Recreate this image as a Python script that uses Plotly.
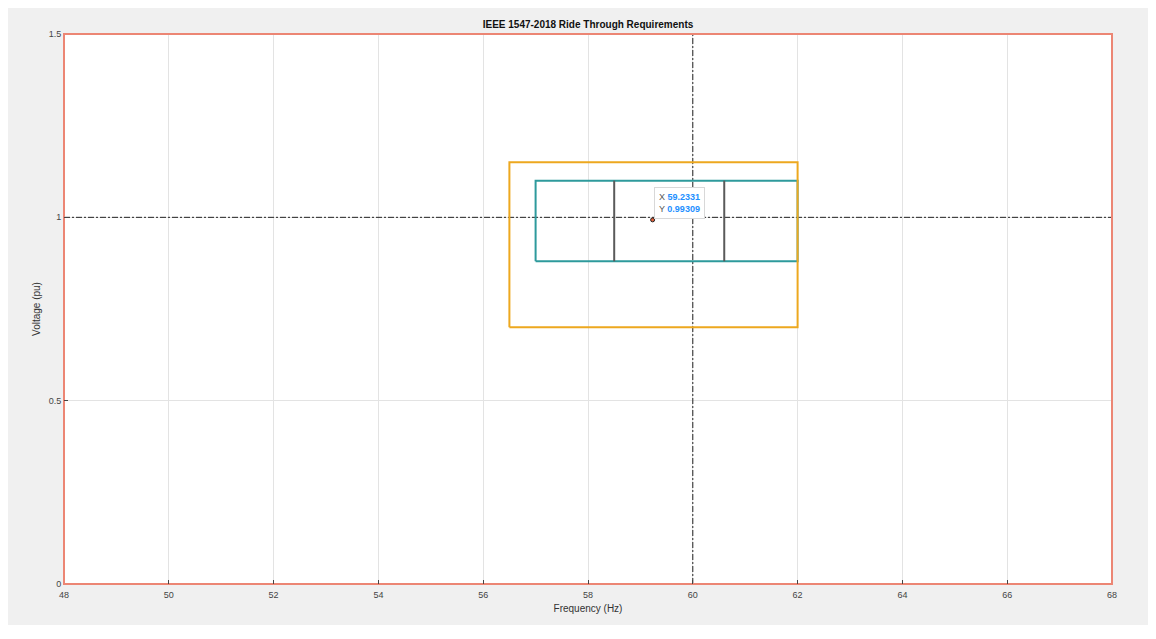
import plotly.graph_objects as go

# Data
boundary_x = [48, 68, 68, 48, 48]
boundary_y = [0, 0, 1.5, 1.5, 0]
outer_x = [56.5, 62, 62, 56.5, 56.5]
outer_y = [0.7, 0.7, 1.15, 1.15, 0.7]
inner_x = [57, 62, 62, 57, 57]
inner_y = [0.88, 0.88, 1.1, 1.1, 0.88]
div1_x = [58.5, 58.5]
div2_x = [60.6, 60.6]
div_y = [0.88, 1.1]
nominal_f = 60
nominal_v = 1
point_x = [59.2331]
point_y = [0.99309]
x_ticks = [48, 50, 52, 54, 56, 58, 60, 62, 64, 66, 68]
y_ticks = [0, 0.5, 1, 1.5]
y_tick_labels = ["0", "0.5", "1", "1.5"]

border_color = "#ec8674"
dashdot = "6px,2px,2px,2px"
fig = go.Figure()
fig.add_trace(go.Scatter(x=[48, 68], y=[nominal_v, nominal_v], mode="lines",
                         line=dict(color="#222222", width=1, dash=dashdot)))
fig.add_trace(go.Scatter(x=[nominal_f, nominal_f], y=[0, 1.5], mode="lines",
                         line=dict(color="#222222", width=1, dash=dashdot)))
fig.add_trace(go.Scatter(x=inner_x, y=inner_y, mode="lines",
                         line=dict(color="#2e9a9c", width=2)))
fig.add_trace(go.Scatter(x=outer_x, y=outer_y, mode="lines",
                         line=dict(color="#eda81f", width=2)))
fig.add_trace(go.Scatter(x=div1_x, y=div_y, mode="lines",
                         line=dict(color="#5a5a5a", width=2)))
fig.add_trace(go.Scatter(x=div2_x, y=div_y, mode="lines",
                         line=dict(color="#5a5a5a", width=2)))
fig.add_trace(go.Scatter(x=boundary_x, y=boundary_y, mode="lines",
                         line=dict(color=border_color, width=2)))
fig.add_trace(go.Scatter(x=point_x, y=point_y, mode="markers",
                         marker=dict(color="#e0603a", size=4,
                                     line=dict(color="#222222", width=1))))

fig.add_annotation(
    x=point_x[0], y=point_y[0], xref="x", yref="y",
    text=("<span style='color:#555'>X</span> <b><span style='color:#1e90ff'>%s</span></b><br>"
          "<span style='color:#555'>Y</span> <b><span style='color:#1e90ff'>%s</span></b>")
         % ("59.2331", "0.99309"),
    showarrow=False, xanchor="left", yanchor="bottom", xshift=1, yshift=1,
    align="left", bgcolor="white", bordercolor="#d8d8d8", borderwidth=1, borderpad=4,
    font=dict(family="Arial, Liberation Sans", size=9),
)

axis_common = dict(showgrid=True, gridcolor="#e3e3e3", gridwidth=1, zeroline=False,
                   ticks="inside", ticklen=4, tickcolor="#444",
                   showline=True, mirror=True, linecolor=border_color, linewidth=1,
                   tickfont=dict(family="Arial, Liberation Sans", size=9, color="#444"))
fig.update_xaxes(range=[48, 68], tickvals=x_ticks, ticktext=[str(t) for t in x_ticks],
                 ticklabelstandoff=2,
                 title=dict(text="Frequency (Hz)", standoff=6,
                            font=dict(family="Arial, Liberation Sans", size=10, color="#333")),
                 **axis_common)
fig.update_yaxes(range=[0, 1.5], tickvals=y_ticks, ticktext=y_tick_labels,
                 title=dict(text="Voltage (pu)", standoff=6,
                            font=dict(family="Arial, Liberation Sans", size=10, color="#333")),
                 **axis_common)

W, H = 1148, 617
fig.update_layout(
    width=W, height=H,
    margin=dict(l=56, r=44, t=26, b=34),
    paper_bgcolor="#f0f0f0", plot_bgcolor="white",
    showlegend=False,
    title=dict(text="<b>IEEE 1547-2018 Ride Through Requirements</b>",
               x=580 / W, xanchor="center", y=1 - 16 / H, yanchor="middle",
               font=dict(family="Arial, Liberation Sans", size=10, color="#111")),
)

fig.write_html("out.html", post_script="document.body.style.overflow='hidden';")
